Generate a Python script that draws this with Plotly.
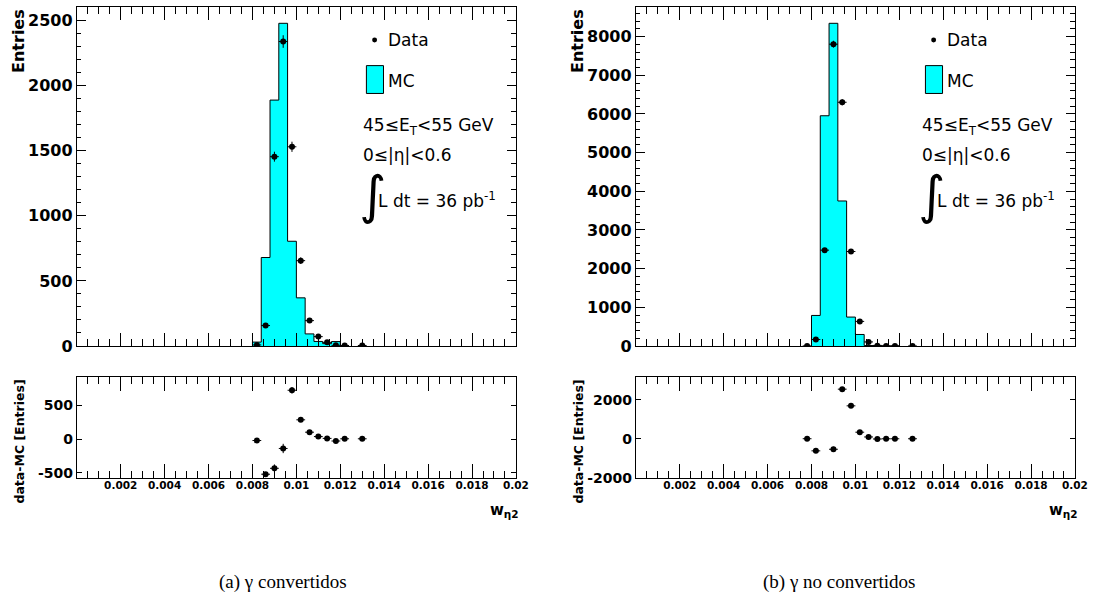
import numpy as np
import plotly.graph_objects as go

W, H = 1120, 616
BIN_W = 0.0004

# gamma convertidos: MC histogram (bin centres / contents) and data points
conv_mc_centers = [0.0082, 0.0086, 0.0090, 0.0094, 0.0098, 0.0102, 0.0106, 0.0110, 0.0114, 0.0118]
conv_mc = [30, 680, 1890, 2480, 805, 370, 93, 35, 18, 34]
conv_data_x = [0.0082, 0.0086, 0.0090, 0.0094, 0.0098, 0.0102, 0.0106, 0.0110, 0.0114, 0.0118, 0.0122, 0.0130]
conv_data = [8, 157, 1455, 2340, 1531, 656, 195, 72, 28, 5, 4, 4]

# gamma no convertidos
unconv_mc_centers = [0.0082, 0.0086, 0.0090, 0.0094, 0.0098, 0.0102, 0.0106, 0.0110, 0.0114, 0.0118]
unconv_mc = [790, 5954, 8345, 3750, 748, 298, 12, 15, 2, 2]
unconv_data_x = [0.0078, 0.0082, 0.0086, 0.0090, 0.0094, 0.0098, 0.0102, 0.0106, 0.0110, 0.0114, 0.0118, 0.0126]
unconv_data = [2, 168, 2478, 7805, 6303, 2443, 636, 105, 3, 2, 2, 1]

x_tick_vals = [0.002, 0.004, 0.006, 0.008, 0.010, 0.012, 0.014, 0.016, 0.018, 0.020]
x_tick_text = ["0.002", "0.004", "0.006", "0.008", "0.01", "0.012", "0.014", "0.016", "0.018", "0.02"]

conv_y_ticks = [0, 500, 1000, 1500, 2000, 2500]
unconv_y_ticks = [0, 1000, 2000, 3000, 4000, 5000, 6000, 7000, 8000]
conv_res_ticks = [-500, 0, 500]
unconv_res_ticks = [-2000, 0, 2000]

captions = ["(a) \u03b3 convertidos", "(b) \u03b3 no convertidos"]

CYAN = "#00FFFF"
SANS = "DejaVu Sans"


def px(x):
    return x / W


def py(y):
    return 1 - y / H


def step_outline(centers, values):
    edges = [c - BIN_W / 2 for c in centers] + [centers[-1] + BIN_W / 2]
    xs = [edges[0]] + edges
    ys = [0] + list(values) + [0]
    return xs, ys


def residuals(cx, cy, dx, dy):
    lookup = {round(c, 5): v for c, v in zip(cx, cy)}
    mc_at = np.array([lookup.get(round(x, 5), 0) for x in dx], dtype=float)
    d = np.array(dy, dtype=float)
    return d - mc_at, np.sqrt(d + mc_at)


fig = go.Figure()

panels = [
    dict(mc_c=conv_mc_centers, mc=conv_mc, dx=conv_data_x, dy=conv_data,
         top=("x", "y"), bot=("x2", "y2")),
    dict(mc_c=unconv_mc_centers, mc=unconv_mc, dx=unconv_data_x, dy=unconv_data,
         top=("x3", "y3"), bot=("x4", "y4")),
]

for p in panels:
    hx, hy = step_outline(p["mc_c"], p["mc"])
    fig.add_trace(go.Scatter(
        x=hx, y=hy, mode="lines", line=dict(color="black", width=1, shape="hv"),
        fill="tozeroy", fillcolor=CYAN, xaxis=p["top"][0], yaxis=p["top"][1],
        hoverinfo="skip"))
    fig.add_trace(go.Scatter(
        x=p["dx"], y=p["dy"], mode="markers",
        marker=dict(color="black", size=6),
        error_y=dict(type="data", array=np.sqrt(np.array(p["dy"], float)),
                     color="black", thickness=1, width=0),
        error_x=dict(type="constant", value=BIN_W / 2, color="black", thickness=1, width=0),
        xaxis=p["top"][0], yaxis=p["top"][1]))
    res, res_err = residuals(p["mc_c"], p["mc"], p["dx"], p["dy"])
    fig.add_trace(go.Scatter(
        x=p["dx"], y=res, mode="markers",
        marker=dict(color="black", size=6),
        error_y=dict(type="data", array=res_err, color="black", thickness=1, width=0),
        error_x=dict(type="constant", value=BIN_W / 2, color="black", thickness=1, width=0),
        xaxis=p["bot"][0], yaxis=p["bot"][1]))

x_minor = list(np.round(np.arange(0, 0.02001, 0.0005), 5))

L_DOM = [px(77.7), px(522.0)]
R_DOM = [px(643.3), px(1087.6)]
TOP_DOM = [py(351.7), py(7.3)]
BOT_DOM = [py(486.0), py(383.3)]


def x_axis(domain, anchor, labels, major_len, minor_len):
    return dict(
        domain=domain, anchor=anchor, range=[0, 0.02],
        showline=True, linecolor="black", linewidth=1, mirror="ticks",
        ticks="inside", ticklen=major_len, tickwidth=1, tickcolor="black",
        tickmode="array", tickvals=x_tick_vals, ticktext=x_tick_text,
        showticklabels=labels, ticklabelstandoff=-3,
        tickfont=dict(family=SANS, size=10.5, color="black", weight="bold"),
        minor=dict(tickmode="array", tickvals=x_minor, ticks="inside",
                   ticklen=minor_len, tickwidth=1, tickcolor="black", showgrid=False),
        showgrid=False, zeroline=False)


def y_axis(domain, anchor, rng, vals, minor_step, major_len, minor_len, size):
    ax = dict(
        domain=domain, anchor=anchor, range=rng,
        showline=True, linecolor="black", linewidth=1, mirror="ticks",
        ticks="inside", ticklen=major_len, tickwidth=1, tickcolor="black",
        tickmode="array", tickvals=vals, ticktext=[str(v) for v in vals],
        tickfont=dict(family=SANS, size=size, color="black", weight="bold"),
        showgrid=False, zeroline=False)
    if minor_step:
        ax["minor"] = dict(tickmode="array",
                           tickvals=list(np.arange(rng[0], rng[1], minor_step)),
                           ticks="inside", ticklen=minor_len, tickwidth=1,
                           tickcolor="black", showgrid=False)
    return ax


fig.update_layout(
    width=W, height=H, margin=dict(l=0, r=0, t=0, b=0),
    paper_bgcolor="white", plot_bgcolor="white", showlegend=False,
    xaxis=x_axis(L_DOM, "y", False, 13, 7),
    yaxis=y_axis(TOP_DOM, "x", [0, 2604], conv_y_ticks, 100, 9, 4.5, 16),
    xaxis2=x_axis(L_DOM, "y2", True, 14, 7),
    yaxis2=y_axis(BOT_DOM, "x2", [-581, 922], conv_res_ticks, None, 5, 0, 14),
    xaxis3=x_axis(R_DOM, "y3", False, 13, 7),
    yaxis3=y_axis(TOP_DOM, "x3", [0, 8762], unconv_y_ticks, 200, 9, 4.5, 16),
    xaxis4=x_axis(R_DOM, "y4", True, 14, 7),
    yaxis4=y_axis(BOT_DOM, "x4", [-2025, 3175], unconv_res_ticks, None, 5, 0, 14),
)

shapes = []
annotations = []
for i, dxp in enumerate([0.0, 565.6]):
    # legend entries
    shapes.append(dict(type="circle", xref="paper", yref="paper",
                       x0=px(376.5 + dxp), x1=px(381.5 + dxp), y0=py(43.2), y1=py(38.2),
                       fillcolor="black", line=dict(color="black", width=0)))
    shapes.append(dict(type="rect", xref="paper", yref="paper",
                       x0=px(370.7 + dxp), x1=px(388 + dxp), y0=py(95), y1=py(66.7),
                       fillcolor=CYAN, line=dict(color="black", width=1)))
    common = dict(xref="paper", yref="paper", showarrow=False, xanchor="left",
                  font=dict(family=SANS, size=17, color="black"))
    annotations.append(dict(text="Data", x=px(391 + dxp), y=py(41), yanchor="middle", **common))
    annotations.append(dict(text="MC", x=px(391 + dxp), y=py(82), yanchor="middle", **common))
    annotations.append(dict(text="45\u2264E<sub>T</sub>&lt;55 GeV", x=px(365 + dxp), y=py(129),
                            yanchor="middle", **common))
    annotations.append(dict(text="0\u2264|\u03b7|&lt;0.6", x=px(365 + dxp), y=py(158),
                            yanchor="middle", **common))
    annotations.append(dict(text="\u222b", x=px(361 + dxp), y=py(198), yanchor="middle",
                            xref="paper", yref="paper", showarrow=False, xanchor="left",
                            font=dict(family=SANS, size=52, color="black")))
    annotations.append(dict(text="L dt = 36 pb<sup>-1</sup>", x=px(380 + dxp), y=py(203),
                            yanchor="middle", **common))
    # axis titles
    annotations.append(dict(text="<b>Entries</b>", x=px(18 + dxp), y=py(7.3), xanchor="center",
                            yanchor="top", textangle=-90, xref="paper", yref="paper",
                            showarrow=False, font=dict(family=SANS, size=16, color="black")))
    annotations.append(dict(text="<b>data-MC [Entries]</b>", x=px(20 + dxp), y=py(384),
                            xanchor="center", yanchor="top", textangle=-90,
                            xref="paper", yref="paper", showarrow=False,
                            font=dict(family=SANS, size=12.5, color="black")))
    annotations.append(dict(text="<b>w</b><sub><b>\u03b72</b></sub>", x=px(527 + dxp), y=py(519),
                            xanchor="right", yanchor="middle", xref="paper", yref="paper",
                            showarrow=False, font=dict(family=SANS, size=15, color="black")))
    annotations.append(dict(text=captions[i], x=px(286 + dxp + (-3 if i else 0)), y=py(592),
                            xanchor="center", yanchor="middle", xref="paper", yref="paper",
                            showarrow=False,
                            font=dict(family="Liberation Serif", size=19, color="black")))

fig.update_layout(shapes=shapes, annotations=annotations)
fig.write_html("out.html")
